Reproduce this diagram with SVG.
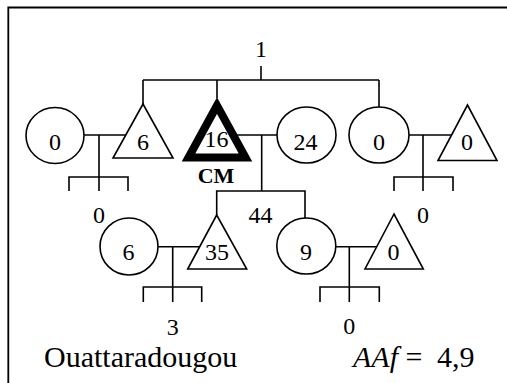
<svg xmlns="http://www.w3.org/2000/svg" width="507" height="383" viewBox="0 0 507 383">
  <style>
    .ln { fill: none; stroke: #000; stroke-width: 1.6; }
    .nd { fill: #fff; stroke: #000; stroke-width: 1.6; }
    .ego { fill: #fff; stroke: #000; stroke-width: 8; stroke-linejoin: miter; }
    text { font-family: "Liberation Serif", "Times New Roman", serif; fill: #000; }
    .t { font-size: 24px; text-anchor: middle; }
    .big { font-size: 30px; }
  </style>

  <!-- frame -->
  <path d="M8.3,383 V7.5 H507" fill="none" stroke="#000" stroke-width="1.8"/>

  <g id="connectors" class="ln">
    <!-- sibling set -->
    <path d="M261,66 V80"/>
    <path d="M143,80 H379"/>
    <path d="M143,80 V104"/>
    <path d="M217,80 V98"/>
    <path d="M379,80 V107"/>
    <!-- left couple -->
    <path d="M84,135 H140"/>
    <path d="M99,135 V191 M69,191 V177 H128 V191"/>
    <!-- ego couple -->
    <path d="M230,135 H277"/>
    <path d="M261.7,135 V191"/>
    <path d="M216.7,215 V191 H305 V218"/>
    <!-- right couple -->
    <path d="M409,135 H460"/>
    <path d="M423,135 V191 M394,191 V177 H453 V191"/>
    <!-- lower left couple -->
    <path d="M158,246.7 H210"/>
    <path d="M172.7,246.7 V302 M143.3,302 V287 H201.7 V302"/>
    <!-- lower right couple -->
    <path d="M336,246.7 H390"/>
    <path d="M349.3,246.7 V302 M320,302 V287 H379.3 V302"/>
  </g>

  <g id="f-left-wife">
    <ellipse class="nd" cx="55" cy="135.5" rx="29" ry="28"/>
    <text class="t" x="55" y="149.5">0</text>
  </g>
  <g id="m-left-brother">
    <polygon class="nd" points="143,104 113,158 173,158"/>
    <text class="t" x="143" y="149.5">6</text>
  </g>
  <g id="ego-cm">
    <polygon class="ego" points="217,105.5 188.5,157.5 245.5,157.5"/>
    <text class="t" x="216.5" y="147">16</text>
    <text class="t" x="216" y="183" font-weight="bold" style="font-size:22px">CM</text>
  </g>
  <g id="f-ego-wife">
    <ellipse class="nd" cx="306.5" cy="135" rx="29.5" ry="28"/>
    <text class="t" x="305.5" y="149.5">24</text>
  </g>
  <g id="f-sister">
    <ellipse class="nd" cx="379" cy="135" rx="30" ry="28"/>
    <text class="t" x="379" y="149.5">0</text>
  </g>
  <g id="m-sister-husband">
    <polygon class="nd" points="467.5,105 438,160.5 497,160.5"/>
    <text class="t" x="467" y="149.5">0</text>
  </g>
  <g id="f-son-wife">
    <ellipse class="nd" cx="129" cy="246.5" rx="29" ry="28.5"/>
    <text class="t" x="128.5" y="260">6</text>
  </g>
  <g id="m-son">
    <polygon class="nd" points="216.7,215 187.7,269 246.7,269"/>
    <text class="t" x="217" y="260">35</text>
  </g>
  <g id="f-daughter">
    <ellipse class="nd" cx="306.3" cy="246" rx="29.5" ry="28"/>
    <text class="t" x="306" y="260">9</text>
  </g>
  <g id="m-daughter-husband">
    <polygon class="nd" points="394,214 365,269 423.3,269"/>
    <text class="t" x="393.5" y="260">0</text>
  </g>

  <g id="labels">
    <text class="t" x="261" y="57">1</text>
    <text class="t" x="99" y="223">0</text>
    <text class="t" x="260.5" y="223">44</text>
    <text class="t" x="423" y="223">0</text>
    <text class="t" x="172.7" y="335">3</text>
    <text class="t" x="349.3" y="334">0</text>
    <text class="big" x="44" y="367">Ouattaradougou</text>
    <text class="big" x="353" y="367"><tspan font-style="italic">AAf</tspan><tspan x="405.5">=</tspan><tspan x="437">4,9</tspan></text>
  </g>
</svg>
